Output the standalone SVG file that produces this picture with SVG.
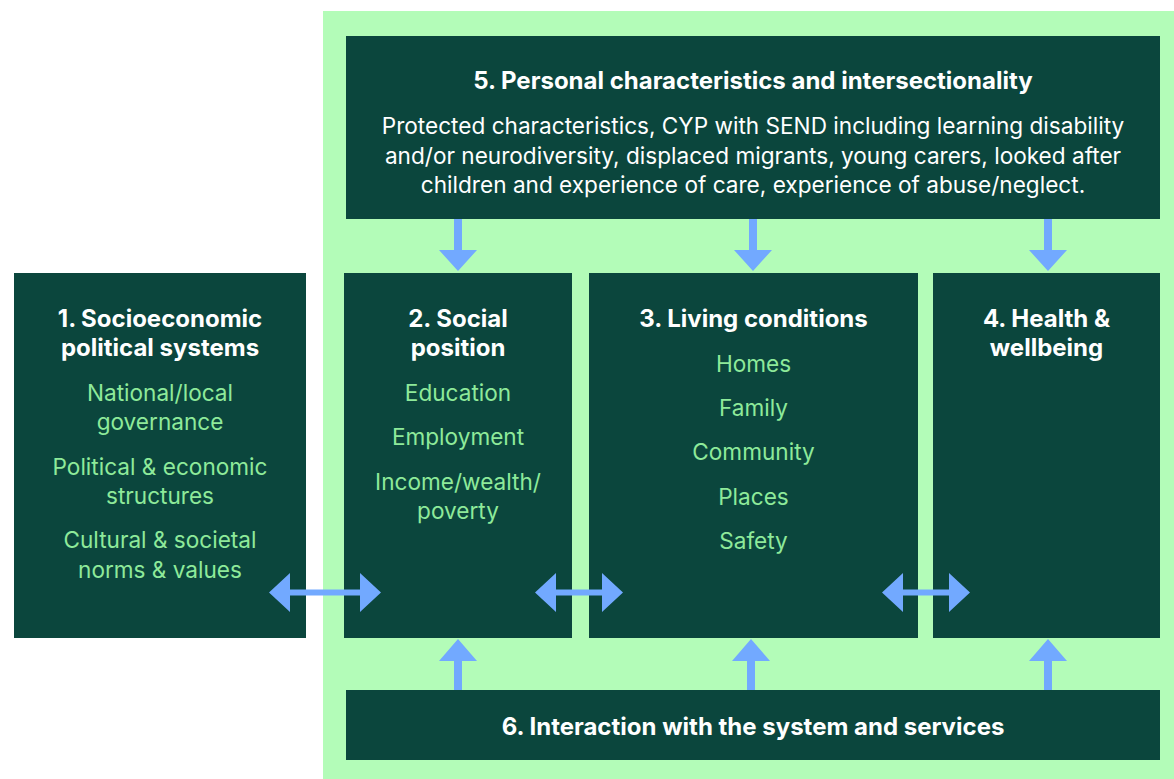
<svg xmlns="http://www.w3.org/2000/svg" width="1174" height="779" viewBox="0 0 1174 779">
<style>
.box{fill:#0B463D}
.t{font-family:Inter,"Noto Sans",sans-serif;font-weight:700;font-size:24px;fill:#FFFFFF;text-anchor:middle}
.b{font-family:Inter,"Noto Sans",sans-serif;font-size:22.6px;fill:#FFFFFF;text-anchor:middle}
.i{font-family:Inter,"Noto Sans",sans-serif;font-size:22.6px;fill:#8EEA9A;text-anchor:middle}
.ar{fill:#72A9FF}
</style>
<rect x="0" y="0" width="1174" height="779" fill="#FFFFFF"/>
<rect x="323" y="11" width="851" height="768" fill="#B3FCB8"/>
<g id="node5">
<rect class="box" x="346" y="36" width="814" height="183"/>
<text class="t" x="753" y="89">5. Personal characteristics and intersectionality</text>
<text class="b" x="753" y="134">Protected characteristics, CYP with SEND including learning disability</text>
<text class="b" x="753" y="164">and/or neurodiversity, displaced migrants, young carers, looked after</text>
<text class="b" x="753" y="193">children and experience of care, experience of abuse/neglect.</text>
</g>
<g id="node1">
<rect class="box" x="14" y="273" width="292" height="365"/>
<text class="t" x="160" y="327">1. Socioeconomic</text>
<text class="t" x="160" y="356">political systems</text>
<text class="i" x="160" y="401">National/local</text>
<text class="i" x="160" y="430">governance</text>
<text class="i" x="160" y="475">Political &amp; economic</text>
<text class="i" x="160" y="504">structures</text>
<text class="i" x="160" y="548">Cultural &amp; societal</text>
<text class="i" x="160" y="578">norms &amp; values</text>
</g>
<g id="node2">
<rect class="box" x="344" y="273" width="228" height="365"/>
<text class="t" x="458" y="327">2. Social</text>
<text class="t" x="458" y="356">position</text>
<text class="i" x="458" y="401">Education</text>
<text class="i" x="458" y="445">Employment</text>
<text class="i" x="458" y="490">Income/wealth/</text>
<text class="i" x="458" y="519">poverty</text>
</g>
<g id="node3">
<rect class="box" x="589" y="273" width="329" height="365"/>
<text class="t" x="753.5" y="327">3. Living conditions</text>
<text class="i" x="753.5" y="372">Homes</text>
<text class="i" x="753.5" y="416">Family</text>
<text class="i" x="753.5" y="460">Community</text>
<text class="i" x="753.5" y="505">Places</text>
<text class="i" x="753.5" y="549">Safety</text>
</g>
<g id="node4">
<rect class="box" x="933" y="273" width="227" height="365"/>
<text class="t" x="1046.5" y="327">4. Health &amp;</text>
<text class="t" x="1046.5" y="356">wellbeing</text>
</g>
<g id="node6">
<rect class="box" x="346" y="690" width="814" height="70"/>
<text class="t" x="753" y="735">6. Interaction with the system and services</text>
</g>
<g id="connectors">
<path class="ar" d="M269,592.5 L290,573 L290,589.5 L360,589.5 L360,573 L381,592.5 L360,612 L360,595.5 L290,595.5 L290,612 Z"/>
<path class="ar" d="M535,592.5 L556,573 L556,589.5 L602,589.5 L602,573 L623,592.5 L602,612 L602,595.5 L556,595.5 L556,612 Z"/>
<path class="ar" d="M882,592.5 L903,573 L903,589.5 L949,589.5 L949,573 L970,592.5 L949,612 L949,595.5 L903,595.5 L903,612 Z"/>
<path class="ar" d="M454,219 L462,219 L462,250 L477,250 L458,271 L439,250 L454,250 Z"/>
<path class="ar" d="M749,219 L757,219 L757,250 L772,250 L753,271 L734,250 L749,250 Z"/>
<path class="ar" d="M1044,219 L1052,219 L1052,250 L1067,250 L1048,271 L1029,250 L1044,250 Z"/>
<path class="ar" d="M454,690 L462,690 L462,661 L477,661 L458,639 L439,661 L454,661 Z"/>
<path class="ar" d="M747,690 L755,690 L755,661 L770,661 L751,639 L732,661 L747,661 Z"/>
<path class="ar" d="M1044,690 L1052,690 L1052,661 L1067,661 L1048,639 L1029,661 L1044,661 Z"/>
</g>
</svg>
